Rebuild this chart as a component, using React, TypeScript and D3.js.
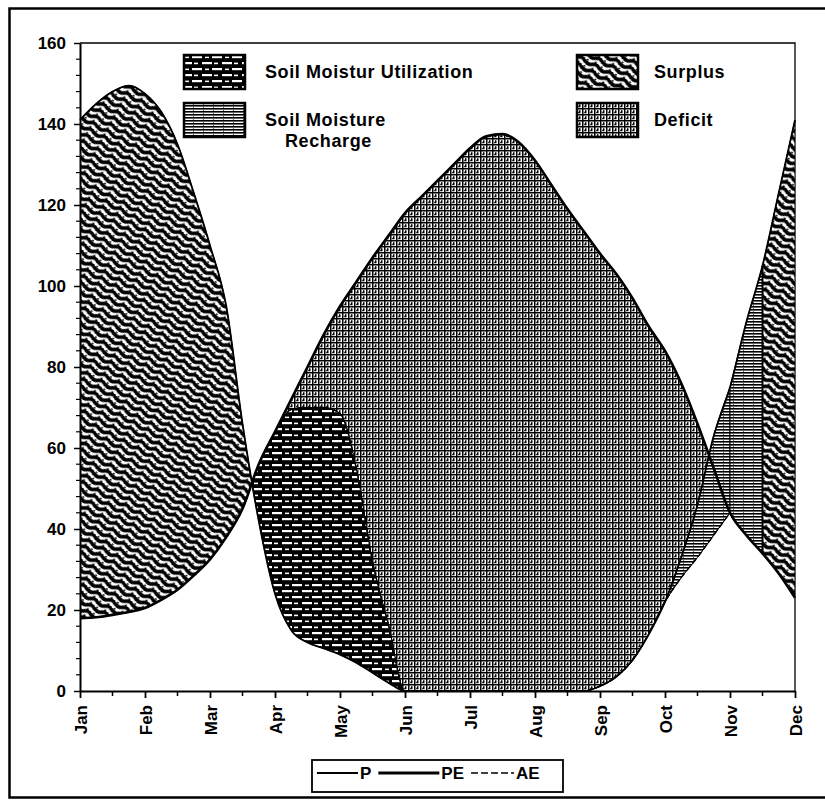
import { useEffect, useRef } from "react";
import * as d3 from "d3";

const months = ["Jan", "Feb", "Mar", "Apr", "May", "Jun", "Jul", "Aug", "Sep", "Oct", "Nov", "Dec"];

// sample positions through the year, in months counted from Jan (0) to Dec (11)
const samplePos = [
    0, 0.25, 0.5, 0.75, 1, 1.25, 1.5, 1.75, 2, 2.25, 2.5, 2.75,
    3, 3.25, 3.5, 3.75, 4, 4.25, 4.5, 4.75, 5, 5.25, 5.5, 5.75,
    6, 6.25, 6.5, 6.75, 7, 7.25, 7.5, 7.75, 8, 8.25, 8.5, 8.75,
    9, 9.25, 9.5, 9.75, 10, 10.25, 10.5, 10.75, 11,
];

// P - precipitation
const precip = [
    141, 145, 148, 149.5, 147.5, 143, 135, 123, 110, 95, 66, 42,
    24, 15, 12, 10.5, 9, 7, 4.5, 2, 0, 0, 0, 0,
    0, 0, 0, 0, 0, 0, 0, 0, 1.2, 3.5, 7.6, 14,
    22, 33, 46, 63, 75, 91, 105, 123, 141,
];

// PE - potential evapotranspiration
const potEvap = [
    18, 18.2, 18.8, 19.5, 20.5, 22.5, 25, 28.5, 32.5, 38, 45, 56,
    64, 72, 80, 88, 95, 101, 107, 112.5, 118, 122, 126, 130,
    134, 137, 137.5, 135.5, 131, 125, 119, 113.5, 108, 103, 97, 90,
    84, 76, 66, 55, 44, 38.5, 34, 29, 23,
];

// AE - actual evapotranspiration
const actEvap = [
    18, 18.2, 18.8, 19.5, 20.5, 22.5, 25, 28.5, 32.5, 38, 45, 56,
    64, 69.5, 70, 70, 68.5, 55, 32, 16, 0, 0, 0, 0,
    0, 0, 0, 0, 0, 0, 0, 0, 1.2, 3.5, 7.6, 14,
    22, 28, 33, 38.5, 44, 38.5, 34, 29, 23,
];

const yTicks = [0, 20, 40, 60, 80, 100, 120, 140, 160];

// AE is back on the PE curve from here (Nov)
const aeRejoins = 10;

// which fill the band between AE and P gets, by stretch of the year
const bands = [
    { zone: "surplus", from: 0, to: 2.65 },
    { zone: "utilization", from: 2.65, to: 5.5 },
    { zone: "recharge", from: 7.5, to: 10.5 },
    { zone: "surplus", from: 10.5, to: 11 },
];

const zoneLegend = [
    { zone: "utilization", lines: ["Soil Moistur Utilization"] },
    { zone: "recharge", lines: ["Soil Moisture", "Recharge"] },
    { zone: "surplus", lines: ["Surplus"] },
    { zone: "deficit", lines: ["Deficit"] },
];

const lineLegend = [
    { key: "P", label: "P" },
    { key: "PE", label: "PE" },
    { key: "AE", label: "AE" },
];

const FONT = "'Liberation Sans', Arial, Helvetica, sans-serif";
const W = 825;
const H = 804;

type Row = { m: number; p: number; pe: number; ae: number };

export default function App() {
    const ref = useRef<SVGSVGElement>(null);

    useEffect(() => {
        const svg = d3.select(ref.current);
        svg.selectAll("*").remove();

        const left = 80, right = 795, top = 43, bottom = 691;
        const x = d3.scaleLinear([0, 11], [left, right]);
        const y = d3.scaleLinear([0, 160], [bottom, top]);

        const rows: Row[] = samplePos.map((m, i) => ({
            m,
            p: precip[i],
            pe: potEvap[i],
            ae: actEvap[i],
        }));

        // ---- fill patterns
        const defs = svg.append("defs");

        // surplus: dark wavy streaks
        const sur = defs.append("pattern")
            .attr("id", "pat-surplus")
            .attr("patternUnits", "userSpaceOnUse")
            .attr("width", 16).attr("height", 7)
            .attr("patternTransform", "rotate(28)");
        sur.append("rect").attr("width", 16).attr("height", 7).attr("fill", "#fff");
        sur.append("path")
            .attr("d", "M-2,3.5 C2,0.8 4,6.2 8,3.5 S14,0.8 18,3.5")
            .attr("stroke", "#000").attr("stroke-width", 3.7).attr("fill", "none");
        sur.append("circle").attr("cx", 11.5).attr("cy", 6.5).attr("r", 1.1).attr("fill", "#000");
        sur.append("circle").attr("cx", 3).attr("cy", 0.6).attr("r", 0.9).attr("fill", "#000");

        // soil moisture utilization: black with white dashes
        const util = defs.append("pattern")
            .attr("id", "pat-utilization")
            .attr("patternUnits", "userSpaceOnUse")
            .attr("width", 20).attr("height", 12);
        util.append("rect").attr("width", 20).attr("height", 12).attr("fill", "#000");
        [[2, 2, 10, 2.2], [14, 2.6, 4, 1.6], [12, 8, 8, 2.2], [0, 8, 2, 2.2], [5, 8.6, 4, 1.5]].forEach(
            ([rx, ry, rw, rh]) =>
                util.append("rect").attr("x", rx).attr("y", ry).attr("width", rw).attr("height", rh).attr("fill", "#fff")
        );

        // recharge: fine horizontal lines
        const rech = defs.append("pattern")
            .attr("id", "pat-recharge")
            .attr("patternUnits", "userSpaceOnUse")
            .attr("width", 10).attr("height", 3);
        rech.append("rect").attr("width", 10).attr("height", 3).attr("fill", "#fff");
        rech.append("rect").attr("width", 10).attr("height", 1.6).attr("fill", "#000");
        rech.append("rect").attr("x", 3).attr("y", 2.2).attr("width", 1).attr("height", 0.6).attr("fill", "#000");

        // deficit: grey maze
        const def = defs.append("pattern")
            .attr("id", "pat-deficit")
            .attr("patternUnits", "userSpaceOnUse")
            .attr("width", 6).attr("height", 6);
        def.append("rect").attr("width", 6).attr("height", 6).attr("fill", "#fff");
        def.append("path")
            .attr("d", "M0,0.75H6M0.75,0V6M3.75,2.2V4.6H2.2")
            .attr("stroke", "#000").attr("stroke-width", 1.5).attr("fill", "none");

        // ---- outer frame and plot frame
        svg.append("rect")
            .attr("x", 9.5).attr("y", 8.5)
            .attr("width", 830).attr("height", 789)
            .attr("fill", "#fff").attr("stroke", "#000").attr("stroke-width", 2.5);

        svg.append("path")
            .attr("d", `M${left},${top}H${right}V${bottom}`)
            .attr("fill", "none").attr("stroke", "#000").attr("stroke-width", 1.3);

        // ---- zones
        const mono = d3.curveMonotoneX;

        const deficitArea = d3.area<Row>()
            .defined((d) => d.m <= aeRejoins)
            .x((d) => x(d.m)).y0((d) => y(d.ae)).y1((d) => y(d.pe))
            .curve(mono);

        svg.append("path")
            .attr("d", deficitArea(rows))
            .attr("fill", "url(#pat-deficit)")
            .attr("stroke", "#000").attr("stroke-width", 1);

        const bandAE = d3.area<Row>()
            .defined((d) => d.m <= aeRejoins)
            .x((d) => x(d.m)).y0((d) => y(d.ae)).y1((d) => y(d.p))
            .curve(mono);
        const bandPE = d3.area<Row>()
            .defined((d) => d.m >= aeRejoins)
            .x((d) => x(d.m)).y0((d) => y(d.pe)).y1((d) => y(d.p))
            .curve(mono);

        bands.forEach((b, i) => {
            const id = `clip-band-${i}`;
            defs.append("clipPath").attr("id", id)
                .append("rect")
                .attr("x", x(b.from)).attr("y", 0)
                .attr("width", x(b.to) - x(b.from)).attr("height", H);
            const g = svg.append("g").attr("clip-path", `url(#${id})`);
            [bandAE, bandPE].forEach((gen) =>
                g.append("path")
                    .attr("d", gen(rows))
                    .attr("fill", `url(#pat-${b.zone})`)
                    .attr("stroke", "#000").attr("stroke-width", 1)
            );
        });

        // divider between recharge and surplus
        const split = rows.find((d) => d.m === 10.5)!;
        svg.append("line")
            .attr("x1", x(split.m)).attr("x2", x(split.m))
            .attr("y1", y(split.pe)).attr("y2", y(split.p))
            .attr("stroke", "#000").attr("stroke-width", 2);

        // ---- curves
        const lineOf = (key: "p" | "pe" | "ae") =>
            d3.line<Row>().x((d) => x(d.m)).y((d) => y(d[key])).curve(mono);

        svg.append("path")
            .attr("d", lineOf("pe")(rows))
            .attr("fill", "none").attr("stroke", "#000").attr("stroke-width", 2.6);
        svg.append("path")
            .attr("d", lineOf("p")(rows))
            .attr("fill", "none").attr("stroke", "#000").attr("stroke-width", 1.8);
        svg.append("path")
            .attr("d", lineOf("ae").defined((d) => d.m <= aeRejoins)(rows))
            .attr("fill", "none").attr("stroke", "#000").attr("stroke-width", 1.4)
            .attr("stroke-dasharray", "6,3");

        // ---- axes
        const yAxis = svg.append("g")
            .attr("transform", `translate(${left},0)`)
            .call(d3.axisLeft(y).tickValues(yTicks).tickSize(6).tickSizeOuter(0).tickPadding(8))
            .attr("font-family", FONT).attr("font-size", 17).attr("font-weight", "bold");
        yAxis.select(".domain").attr("stroke-width", 2);
        yAxis.selectAll(".tick line").attr("stroke-width", 1.5);

        svg.append("g")
            .selectAll("line")
            .data(d3.range(0, 161, 4).filter((v) => v % 20 !== 0))
            .join("line")
            .attr("x1", left - 4).attr("x2", left)
            .attr("y1", (v) => y(v)).attr("y2", (v) => y(v))
            .attr("stroke", "#000").attr("stroke-width", 1.2);

        const xAxis = svg.append("g")
            .attr("transform", `translate(0,${bottom})`)
            .call(
                d3.axisBottom(x)
                    .tickValues(d3.range(12))
                    .tickFormat((i) => months[i as number])
                    .tickSize(7)
                    .tickSizeOuter(0)
            )
            .attr("font-family", FONT).attr("font-size", 17).attr("font-weight", "bold");
        xAxis.select(".domain").attr("stroke-width", 2);
        xAxis.selectAll(".tick line").attr("stroke-width", 1.8);
        xAxis.selectAll(".tick text")
            .attr("transform", "rotate(-90)")
            .attr("x", -14).attr("y", 0).attr("dy", "0.36em")
            .attr("text-anchor", "end");

        svg.append("g")
            .selectAll("line")
            .data(d3.range(0.5, 11, 1))
            .join("line")
            .attr("x1", (m) => x(m)).attr("x2", (m) => x(m))
            .attr("y1", bottom).attr("y2", bottom + 5)
            .attr("stroke", "#000").attr("stroke-width", 1.5);

        // ---- zone legend
        const cols = [{ box: 184, text: 265 }, { box: 577, text: 654 }];
        const rowTops = [55, 103];
        zoneLegend.forEach((item, i) => {
            const col = cols[Math.floor(i / 2)];
            const rowTop = rowTops[i % 2];
            svg.append("rect")
                .attr("x", col.box).attr("y", rowTop)
                .attr("width", 61).attr("height", 34)
                .attr("fill", `url(#pat-${item.zone})`)
                .attr("stroke", "#000").attr("stroke-width", 2.5);
            item.lines.forEach((line, j) => {
                svg.append("text")
                    .attr("x", col.text + (j > 0 ? 20 : 0))
                    .attr("y", rowTop + 23 + j * 21)
                    .attr("font-family", FONT).attr("font-size", 18).attr("font-weight", "bold")
                    .attr("letter-spacing", 0.6)
                    .text(line);
            });
        });

        // ---- line legend
        const lg = svg.append("g");
        lg.append("rect")
            .attr("x", 312).attr("y", 760)
            .attr("width", 251).attr("height", 32)
            .attr("fill", "#fff").attr("stroke", "#000").attr("stroke-width", 1.8);

        const swatch: Record<string, { len: number; w: number; dash: string | null }> = {
            P: { len: 41, w: 1.8, dash: null },
            PE: { len: 61, w: 3.2, dash: null },
            AE: { len: 43, w: 1.6, dash: "7,3" },
        };
        let cx = 317;
        const cy = 773;
        lineLegend.forEach((item) => {
            const s = swatch[item.key];
            lg.append("line")
                .attr("x1", cx).attr("x2", cx + s.len)
                .attr("y1", cy).attr("y2", cy)
                .attr("stroke", "#000").attr("stroke-width", s.w)
                .attr("stroke-dasharray", s.dash);
            const t = lg.append("text")
                .attr("x", cx + s.len + 2).attr("y", cy + 6)
                .attr("font-family", FONT).attr("font-size", 17).attr("font-weight", "bold")
                .text(item.label);
            const tw = (t.node() as SVGTextElement).getComputedTextLength();
            cx += s.len + 2 + tw + 7;
        });
    }, []);

    return (
        <svg
            ref={ref}
            width={W}
            height={H}
            style={{ position: "absolute", left: 0, top: 0, display: "block", background: "#fff" }}
        />
    );
}
